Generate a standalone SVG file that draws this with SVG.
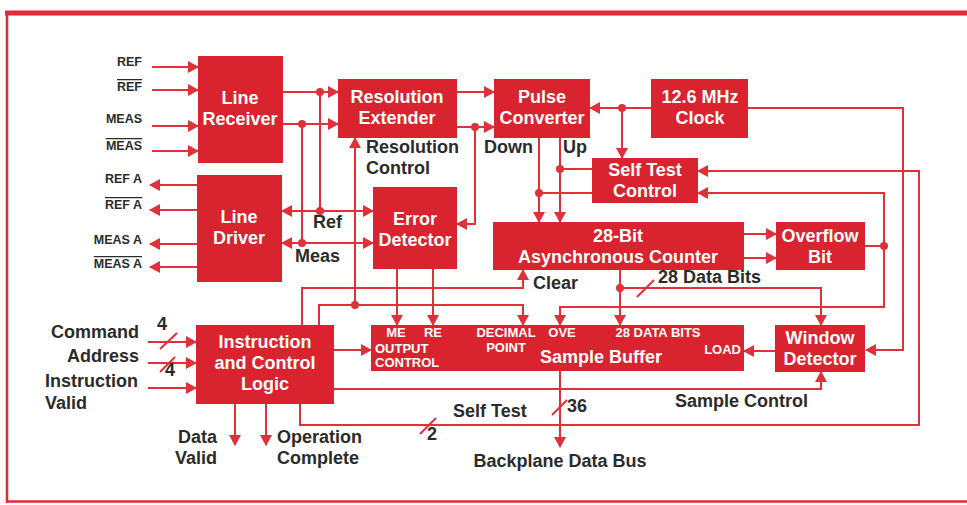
<svg xmlns="http://www.w3.org/2000/svg" width="967" height="505" viewBox="0 0 967 505">
<style>
.blk{fill:#d9232e}
.bt{font-family:"Liberation Sans",Arial,sans-serif;font-weight:bold;font-size:18px;fill:#fff;text-anchor:middle}
.bs{font-family:"Liberation Sans",Arial,sans-serif;font-weight:bold;font-size:13px;fill:#fff}
.lb{font-family:"Liberation Sans",Arial,sans-serif;font-weight:bold;font-size:18px;fill:#2b2b2b}
.sm{font-family:"Liberation Sans",Arial,sans-serif;font-weight:bold;font-size:12.5px;fill:#2b2b2b;text-anchor:end}
.w{stroke:#e0303a;stroke-width:2;fill:none}
.wa{stroke:#e0303a;stroke-width:2;fill:none;marker-end:url(#ah)}
.d{fill:#e0303a}
.ov{text-decoration:overline}
</style>
<defs>
<marker id="ah" markerUnits="userSpaceOnUse" markerWidth="11" markerHeight="12" refX="10" refY="6" orient="auto" viewBox="0 0 11 12">
<path d="M0,0 L11,6 L0,12 z" fill="#e0303a"/>
</marker>
</defs>
<rect width="967" height="505" fill="#fff"/>
<g id="frame">
<line x1="5" y1="13" x2="967" y2="13" stroke="#e42a34" stroke-width="5"/>
<line x1="7" y1="11" x2="7" y2="503" stroke="#e42a34" stroke-width="2.5"/>
<line x1="6" y1="501.5" x2="967" y2="501.5" stroke="#e42a34" stroke-width="2.5"/>
</g>
<g id="connectors">
<line class="wa" x1="152" y1="67" x2="198" y2="67"/>
<line class="wa" x1="152" y1="90" x2="198" y2="90"/>
<line class="wa" x1="152" y1="126" x2="198" y2="126"/>
<line class="wa" x1="152" y1="151" x2="198" y2="151"/>
<line class="wa" x1="197" y1="185" x2="150" y2="185"/>
<line class="wa" x1="197" y1="210" x2="150" y2="210"/>
<line class="wa" x1="197" y1="244" x2="150" y2="244"/>
<line class="wa" x1="197" y1="267" x2="150" y2="267"/>
<line class="wa" x1="283" y1="92" x2="338" y2="92"/>
<line class="wa" x1="283" y1="124" x2="338" y2="124"/>
<line class="w" x1="320" y1="92" x2="320" y2="211"/>
<line class="w" x1="302" y1="124" x2="302" y2="243"/>
<circle class="d" cx="320" cy="92" r="4"/>
<circle class="d" cx="302" cy="124" r="4"/>
<line class="wa" x1="320" y1="211" x2="282" y2="211"/>
<line class="wa" x1="320" y1="211" x2="373" y2="211"/>
<line class="wa" x1="302" y1="243" x2="282" y2="243"/>
<line class="wa" x1="302" y1="243" x2="373" y2="243"/>
<circle class="d" cx="320" cy="211" r="4"/>
<circle class="d" cx="302" cy="243" r="4"/>
<line class="wa" x1="457" y1="92" x2="494" y2="92"/>
<line class="wa" x1="457" y1="127" x2="494" y2="127"/>
<polyline class="wa" points="475,127 475,224 457,224"/>
<circle class="d" cx="475" cy="127" r="4"/>
<line class="wa" x1="355" y1="305" x2="355" y2="138"/>
<line class="wa" x1="651" y1="108" x2="590" y2="108"/>
<line class="wa" x1="622" y1="108" x2="622" y2="158"/>
<circle class="d" cx="622" cy="108" r="4"/>
<polyline class="wa" points="748,108 903,108 903,350 866,350"/>
<line class="wa" x1="539" y1="138" x2="539" y2="222"/>
<line class="wa" x1="560" y1="138" x2="560" y2="222"/>
<line class="w" x1="560" y1="169" x2="592" y2="169"/>
<line class="w" x1="539" y1="193" x2="592" y2="193"/>
<circle class="d" cx="560" cy="169" r="4"/>
<circle class="d" cx="539" cy="193" r="4"/>
<polyline class="wa" points="300,404 300,425 919,425 919,171 698,171"/>
<polyline class="wa" points="884,246 884,193 698,193"/>
<line class="wa" x1="744" y1="234" x2="776" y2="234"/>
<line class="wa" x1="744" y1="258" x2="776" y2="258"/>
<line class="w" x1="865" y1="246" x2="884" y2="246"/>
<polyline class="wa" points="884,246 884,307 560,307 560,325"/>
<circle class="d" cx="884" cy="246" r="4"/>
<line class="wa" x1="620" y1="270" x2="620" y2="325"/>
<polyline class="wa" points="620,288 821,288 821,325"/>
<circle class="d" cx="620" cy="288" r="4"/>
<line class="w" x1="637" y1="297" x2="654" y2="280" stroke-width="1.5"/>
<polyline class="wa" points="302,325 302,288 523,288 523,270"/>
<polyline class="wa" points="319,325 319,305 523,305 523,325"/>
<circle class="d" cx="355" cy="305" r="4"/>
<line class="wa" x1="397" y1="269" x2="397" y2="325"/>
<line class="wa" x1="433" y1="269" x2="433" y2="325"/>
<line class="wa" x1="334" y1="350" x2="371" y2="350"/>
<polyline class="wa" points="334,389 821,389 821,372"/>
<line class="wa" x1="235" y1="404" x2="235" y2="445"/>
<line class="wa" x1="266" y1="404" x2="266" y2="445"/>
<line class="w" x1="420" y1="434" x2="436" y2="418" stroke-width="1.5"/>
<line class="wa" x1="775" y1="351" x2="744" y2="351"/>
<line class="wa" x1="560" y1="371" x2="560" y2="447"/>
<line class="w" x1="552" y1="415" x2="567" y2="400" stroke-width="1.5"/>
<line class="wa" x1="148" y1="342" x2="196" y2="342"/>
<line class="wa" x1="148" y1="363" x2="196" y2="363"/>
<line class="wa" x1="148" y1="388" x2="196" y2="388"/>
<line class="w" x1="160" y1="349" x2="177" y2="333" stroke-width="1.5"/>
<line class="w" x1="160" y1="372" x2="175" y2="357" stroke-width="1.5"/>
</g>
<g id="line-receiver">
<rect class="blk" x="198" y="56" width="85" height="107"/>
<text class="bt" x="240" y="104">Line</text>
<text class="bt" x="240" y="125">Receiver</text>
</g>
<g id="line-driver">
<rect class="blk" x="197" y="175" width="85" height="107"/>
<text class="bt" x="239" y="223">Line</text>
<text class="bt" x="239" y="244">Driver</text>
</g>
<g id="resolution-extender">
<rect class="blk" x="338" y="79" width="119" height="59"/>
<text class="bt" x="397" y="103">Resolution</text>
<text class="bt" x="397" y="124">Extender</text>
</g>
<g id="error-detector">
<rect class="blk" x="373" y="187" width="84" height="82"/>
<text class="bt" x="415" y="225">Error</text>
<text class="bt" x="415" y="246">Detector</text>
</g>
<g id="pulse-converter">
<rect class="blk" x="494" y="79" width="96" height="59"/>
<text class="bt" x="542" y="103">Pulse</text>
<text class="bt" x="542" y="124">Converter</text>
</g>
<g id="clock">
<rect class="blk" x="651" y="79" width="97" height="59"/>
<text class="bt" x="700" y="103">12.6 MHz</text>
<text class="bt" x="700" y="124">Clock</text>
</g>
<g id="self-test-control">
<rect class="blk" x="592" y="158" width="106" height="45"/>
<text class="bt" x="645" y="176">Self Test</text>
<text class="bt" x="645" y="197">Control</text>
</g>
<g id="counter">
<rect class="blk" x="493" y="222" width="251" height="48"/>
<text class="bt" x="618" y="242">28-Bit</text>
<text class="bt" x="618" y="263">Asynchronous Counter</text>
</g>
<g id="overflow-bit">
<rect class="blk" x="776" y="222" width="89" height="48"/>
<text class="bt" x="820" y="242">Overflow</text>
<text class="bt" x="820" y="263">Bit</text>
</g>
<g id="window-detector">
<rect class="blk" x="775" y="325" width="90" height="47"/>
<text class="bt" x="820" y="344">Window</text>
<text class="bt" x="820" y="365">Detector</text>
</g>
<g id="instruction-control-logic">
<rect class="blk" x="196" y="325" width="138" height="79"/>
<text class="bt" x="265" y="348">Instruction</text>
<text class="bt" x="265" y="369">and Control</text>
<text class="bt" x="265" y="390">Logic</text>
</g>
<g id="sample-buffer">
<rect class="blk" x="371" y="325" width="373" height="46"/>
<text class="bs" x="396" y="337" text-anchor="middle">ME</text>
<text class="bs" x="433" y="337" text-anchor="middle">RE</text>
<text class="bs" x="506" y="337" text-anchor="middle">DECIMAL</text>
<text class="bs" x="506" y="352" text-anchor="middle">POINT</text>
<text class="bs" x="562" y="337" text-anchor="middle">OVE</text>
<text class="bs" x="658" y="337" text-anchor="middle">28 DATA BITS</text>
<text class="bs" x="375" y="353">OUTPUT</text>
<text class="bs" x="375" y="367">CONTROL</text>
<text class="bs" x="741" y="354" text-anchor="end">LOAD</text>
<text class="bt" x="601" y="363">Sample Buffer</text>
</g>
<g id="labels">
<text class="sm" x="142" y="66">REF</text>
<text class="sm ov" x="142" y="91">REF</text>
<text class="sm" x="142" y="123">MEAS</text>
<text class="sm ov" x="142" y="150">MEAS</text>
<text class="sm" x="142" y="183">REF A</text>
<text class="sm ov" x="142" y="209">REF A</text>
<text class="sm" x="142" y="244">MEAS A</text>
<text class="sm ov" x="142" y="268">MEAS A</text>
<text class="lb" x="366" y="153">Resolution</text>
<text class="lb" x="366" y="174">Control</text>
<text class="lb" x="313" y="228">Ref</text>
<text class="lb" x="295" y="262">Meas</text>
<text class="lb" x="484" y="153">Down</text>
<text class="lb" x="563" y="153">Up</text>
<text class="lb" x="533" y="289">Clear</text>
<text class="lb" x="658" y="283">28 Data Bits</text>
<text class="lb" x="453" y="417">Self Test</text>
<text class="lb" x="567" y="412">36</text>
<text class="lb" x="427" y="440" font-size="16">2</text>
<text class="lb" x="675" y="407">Sample Control</text>
<text class="lb" x="560" y="467" text-anchor="middle">Backplane Data Bus</text>
<text class="lb" x="217" y="443" text-anchor="end">Data</text>
<text class="lb" x="217" y="464" text-anchor="end">Valid</text>
<text class="lb" x="277" y="443">Operation</text>
<text class="lb" x="277" y="464">Complete</text>
<text class="lb" x="139" y="338" text-anchor="end">Command</text>
<text class="lb" x="139" y="362" text-anchor="end">Address</text>
<text class="lb" x="45" y="387">Instruction</text>
<text class="lb" x="45" y="409">Valid</text>
<text class="lb" x="157" y="330" font-size="16">4</text>
<text class="lb" x="165" y="376" font-size="16">4</text>
</g>
</svg>
